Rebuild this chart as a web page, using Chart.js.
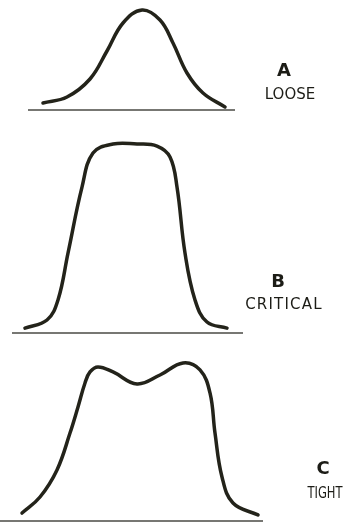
<!DOCTYPE html>
<html>
<head>
<meta charset="utf-8">
<script src="https://cdn.jsdelivr.net/npm/chart.js@4"></script>
<style>
	html, body { margin: 0; padding: 0; background: #fff; }
	#page { position: relative; width: 349px; height: 522px; overflow: hidden; }
	.panel { position: absolute; left: 0; width: 349px; }
	.letter, .name {
		position: absolute;
		transform: translate(-50%, -50%);
		font-family: "DejaVu Sans", sans-serif;
		color: #1c1c16;
		white-space: nowrap;
	}
	.letter { font-weight: bold; font-size: 18px; }
	.name { font-size: 15px; letter-spacing: 1.2px; }
	#loose-name { letter-spacing: 0; }
	#tight-name { letter-spacing: 0; font-size: 16px; transform: translate(-50%, -50%) scaleX(0.72); }
</style>
</head>
<body>
<div id="page">
	<div class="panel" style="top:0;height:120px;"><canvas id="loose-canvas"></canvas></div>
	<div class="panel" style="top:120px;height:220px;"><canvas id="critical-canvas"></canvas></div>
	<div class="panel" style="top:340px;height:182px;"><canvas id="tight-canvas"></canvas></div>

	<div class="letter" style="left:284px;top:69px;">A</div>
	<div class="name" id="loose-name" style="left:290px;top:94px;">LOOSE</div>
	<div class="letter" style="left:278px;top:280px;">B</div>
	<div class="name" style="left:284px;top:304px;">CRITICAL</div>
	<div class="letter" style="left:323px;top:467px;">C</div>
	<div class="name" id="tight-name" style="left:325px;top:492px;">TIGHT</div>
</div>
<script>
// frequency offset (arbitrary units) and relative response for each coupling
const looseFreq = [-19.8, -15, -10.4, -7, -3.8, 0, 3.6, 6.2, 9, 12.2, 16.6];
const looseResp = [0.07, 0.13, 0.31, 0.59, 0.87, 1.0, 0.90, 0.67, 0.37, 0.17, 0.03];

const criticalFreq = [-23.4, -19, -16.8, -14.8, -12, -9.8, -5.8, -1, 3, 5.6, 7, 8.6, 10.6, 13, 17];
const criticalResp = [0.026, 0.069, 0.175, 0.423, 0.772, 0.952, 1.0, 1.0, 0.989, 0.931, 0.772, 0.423, 0.175, 0.058, 0.026];

const tightFreq = [-24, -20.4, -17, -14.4, -12.8, -11.4, -10.4, -8.8, -5.8, -1, 3.6, 8.2, 11.6, 13.6, 14.6, 16, 18.2, 23.2];
const tightResp = [0.05, 0.151, 0.321, 0.553, 0.717, 0.868, 0.937, 0.969, 0.937, 0.862, 0.918, 0.994, 0.950, 0.805, 0.553, 0.277, 0.113, 0.038];

// baseline extent for each panel
const looseBase = [-22.8, 18.6];
const criticalBase = [-26, 20.2];
const tightBase = [-28.4, 24.2];

const curveColor = "#23231a";
const baseColor = "#4a4a44";

function toPoints(xs, ys) {
	return xs.map((x, i) => ({ x: x, y: ys[i] }));
}

function drawPanel(canvasId, freq, resp, base, yMin, yMax) {
	new Chart(canvasId, {
		type: "line",
		data: {
			datasets: [
				{
					data: toPoints(base, [0, 0]),
					borderColor: baseColor,
					borderWidth: 1.5,
					pointRadius: 0,
					clip: false,
				},
				{
					data: toPoints(freq, resp),
					borderColor: curveColor,
					borderWidth: 3.5,
					pointRadius: 0,
					tension: 0.4,
					borderCapStyle: "round",
					clip: false,
				},
			],
		},
		options: {
			responsive: true,
			maintainAspectRatio: false,
			animation: false,
			layout: { padding: 0 },
			plugins: {
				legend: { display: false },
				tooltip: { enabled: false },
			},
			scales: {
				x: { type: "linear", min: -28.4, max: 41.4, display: false },
				y: { min: yMin, max: yMax, display: false },
			},
		},
	});
}

drawPanel("loose-canvas", looseFreq, looseResp, looseBase, -0.1, 1.1);
drawPanel("critical-canvas", criticalFreq, criticalResp, criticalBase, -0.037, 1.127);
drawPanel("tight-canvas", tightFreq, tightResp, tightBase, -0.0063, 1.138);
</script>
</body>
</html>
